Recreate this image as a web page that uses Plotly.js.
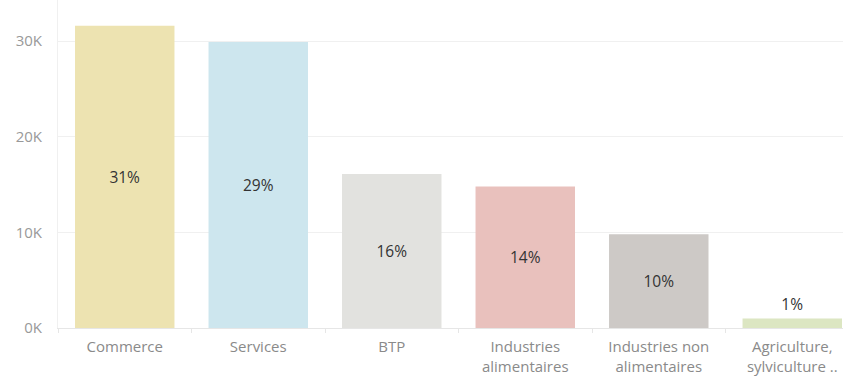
<!DOCTYPE html>
<html>
<head>
<meta charset="utf-8">
<script src="https://cdn.plot.ly/plotly-3.0.1.min.js"></script>
<style>html,body{margin:0;padding:0;background:#fff;}#chart{width:843px;height:379px;}</style>
</head>
<body>
<div id="chart"></div>
<script>
const categories = ["Commerce", "Services", "BTP", "Industries<br>alimentaires", "Industries non<br>alimentaires", "Agriculture,<br>sylviculture .."];
const values = [31600, 29900, 16100, 14800, 9800, 1000];
const percentLabels = ["31%", "29%", "16%", "14%", "10%", "1%"];
const barColors = ["#ede3b1", "#cde6ee", "#e2e2df", "#e9c1bd", "#cdc9c6", "#dce6c2"];
const textPositions = ["inside", "inside", "inside", "inside", "inside", "outside"];
const yTickValues = [0, 10000, 20000, 30000];
const yTickLabels = ["0K", "10K", "20K", "30K"];

const trace = {
  type: "bar",
  x: categories,
  y: values,
  text: percentLabels,
  textposition: textPositions,
  insidetextanchor: "middle",
  textangle: 0,
  cliponaxis: false,
  textfont: {family: "Open Sans, sans-serif", size: 15.5, color: "#333"},
  marker: {color: barColors, line: {width: 0}},
  hoverinfo: "none"
};

const layout = {
  width: 843,
  height: 379,
  margin: {l: 58, r: 0, t: 0, b: 51},
  paper_bgcolor: "#fff",
  plot_bgcolor: "#fff",
  bargap: 0.255,
  showlegend: false,
  font: {family: "Open Sans, sans-serif"},
  xaxis: {
    type: "category",
    range: [-0.5, 5.38],
    tickson: "boundaries",
    ticks: "outside",
    ticklen: 4,
    tickcolor: "#e6e6e6",
    showline: true,
    linecolor: "#e6e6e6",
    showgrid: false,
    ticklabelstandoff: 5,
    tickfont: {size: 15, color: "#8a8a8a"},
    fixedrange: true
  },
  yaxis: {
    range: [0, 34300],
    tickvals: yTickValues,
    ticktext: yTickLabels,
    showline: true,
    linecolor: "#f0f0f0",
    showgrid: true,
    gridcolor: "#f0f0f0",
    zeroline: false,
    ticks: "",
    ticklabelstandoff: 12,
    tickfont: {size: 15, color: "#999"},
    fixedrange: true
  }
};

Plotly.newPlot("chart", [trace], layout, {displayModeBar: false, staticPlot: true});
</script>
</body>
</html>
